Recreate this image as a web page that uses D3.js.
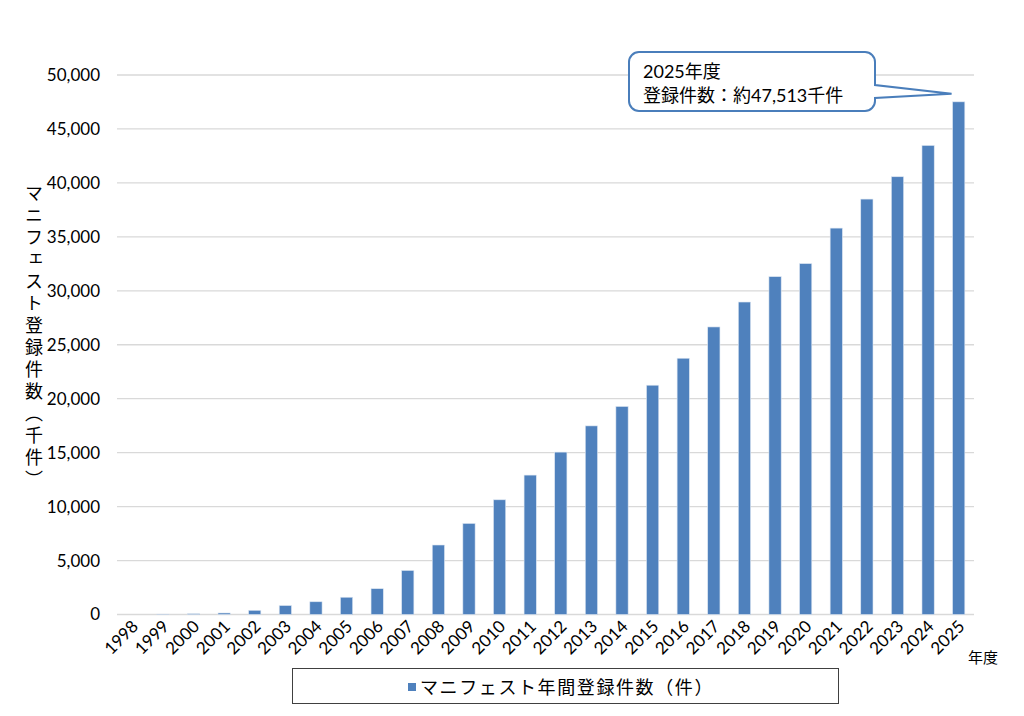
<!DOCTYPE html>
<html>
<head>
<meta charset="utf-8">
<script src="https://cdn.jsdelivr.net/npm/d3@7/dist/d3.min.js"></script>
<style>
  body { margin: 0; background: #fff; }
  text { font-family: "Lato", "Noto Sans CJK JP", sans-serif; fill: #000; }
</style>
</head>
<body>
<svg id="chart"></svg>
<script>
// annual manifest registrations (thousands)
const years = ["1998","1999","2000","2001","2002","2003","2004","2005","2006","2007",
  "2008","2009","2010","2011","2012","2013","2014","2015","2016","2017",
  "2018","2019","2020","2021","2022","2023","2024","2025"];
const counts = [0, 30, 70, 140, 390, 830, 1180, 1600, 2390, 4080,
  6440, 8440, 10630, 12920, 15050, 17480, 19280, 21250, 23750, 26650,
  28960, 31310, 32520, 35810, 38500, 40570, 43470, 47513];
const yTicks = [0, 5000, 10000, 15000, 20000, 25000, 30000, 35000, 40000, 45000, 50000];
const yTitle = "マニフェスト登録件数（千件）";
const xTitle = "年度";
const legendLabel = "マニフェスト年間登録件数（件）";
const calloutLines = ["2025年度", "登録件数：約47,513千件"];

const width = 1024;
const height = 716;
const margin = { top: 75, right: 50, bottom: 102, left: 117 };

const svg = d3.select("#chart")
    .attr("width", width)
    .attr("height", height);

const x = d3.scaleBand()
    .domain(years)
    .range([margin.left, width - margin.right])
    .paddingInner(0.6)
    .paddingOuter(0.3);

const y = d3.scaleLinear()
    .domain([0, 50000])
    .range([height - margin.bottom + 0.5, margin.top]);

// gridlines
svg.append("g")
    .selectAll("line")
    .data(yTicks)
    .enter()
    .append("line")
    .attr("x1", margin.left)
    .attr("x2", width - margin.right)
    .attr("y1", d => y(d))
    .attr("y2", d => y(d))
    .attr("stroke", "#d9d9d9")
    .attr("stroke-width", 1.3);

// y axis labels
const yAxis = svg.append("g")
    .attr("transform", `translate(${margin.left - 17},0)`)
    .call(d3.axisLeft(y).tickValues(yTicks).tickFormat(d3.format(",")).tickSize(0));
yAxis.select(".domain").remove();
yAxis.selectAll("text")
    .attr("x", 0)
    .style("font-size", "17px")
    .style("font-family", "Lato, 'Noto Sans CJK JP', sans-serif");

// bars
svg.append("g")
    .selectAll("rect")
    .data(counts)
    .enter()
    .append("rect")
    .attr("x", (d, i) => x(years[i]))
    .attr("y", d => y(d))
    .attr("width", x.bandwidth())
    .attr("height", d => y(0) - y(d))
    .attr("fill", "#4f81bd")
    .attr("stroke", "#dce6f2")
    .attr("stroke-width", d => d > 0 ? 0.6 : 0);

// x labels
svg.append("g")
    .selectAll("text")
    .data(years)
    .enter()
    .append("text")
    .attr("transform", d => `translate(${x(d) + x.bandwidth() / 2 + 7},${y(0) + 13}) rotate(-45)`)
    .attr("text-anchor", "end")
    .style("font-size", "17px")
    .text(d => d);

svg.append("text")
    .attr("x", width - margin.right - 6)
    .attr("y", 663)
    .style("font-size", "15px")
    .text(xTitle);

// y title, vertical
svg.append("text")
    .attr("x", 33)
    .attr("y", 184)
    .style("writing-mode", "vertical-rl")
    .style("font-size", "18px")
    .style("letter-spacing", "4px")
    .text(yTitle);

// legend
const legend = svg.append("g");
legend.append("rect")
    .attr("x", 292.5)
    .attr("y", 668.5)
    .attr("width", 546)
    .attr("height", 35)
    .attr("fill", "#fff")
    .attr("stroke", "#404040")
    .attr("stroke-width", 1);
legend.append("rect")
    .attr("x", 408)
    .attr("y", 683)
    .attr("width", 8)
    .attr("height", 8)
    .attr("fill", "#4f81bd");
legend.append("text")
    .attr("x", 420)
    .attr("y", 694)
    .style("font-size", "18px")
    .style("letter-spacing", "1.6px")
    .text(legendLabel);

// callout pointing at the last bar
const last = years.length - 1;
const tipX = x(years[last]) - 1;
const tipY = y(counts[last]) - 8;
const bx = 629, by = 52, bw = 246, bh = 59, r = 10;
const calloutPath = d3.path();
calloutPath.moveTo(bx + r, by);
calloutPath.lineTo(bx + bw - r, by);
calloutPath.arcTo(bx + bw, by, bx + bw, by + r, r);
calloutPath.lineTo(bx + bw, by + 33);
calloutPath.lineTo(tipX, tipY);
calloutPath.lineTo(bx + bw, by + 46);
calloutPath.lineTo(bx + bw, by + bh - r);
calloutPath.arcTo(bx + bw, by + bh, bx + bw - r, by + bh, r);
calloutPath.lineTo(bx + r, by + bh);
calloutPath.arcTo(bx, by + bh, bx, by + bh - r, r);
calloutPath.lineTo(bx, by + r);
calloutPath.arcTo(bx, by, bx + r, by, r);
calloutPath.closePath();

svg.append("path")
    .attr("d", calloutPath.toString())
    .attr("fill", "#fff")
    .attr("stroke", "#4a7ebb")
    .attr("stroke-width", 2);

svg.append("g")
    .selectAll("text")
    .data(calloutLines)
    .enter()
    .append("text")
    .attr("x", 643)
    .attr("y", (d, i) => 78 + i * 24)
    .style("font-size", "18px")
    .text(d => d);
</script>
</body>
</html>
